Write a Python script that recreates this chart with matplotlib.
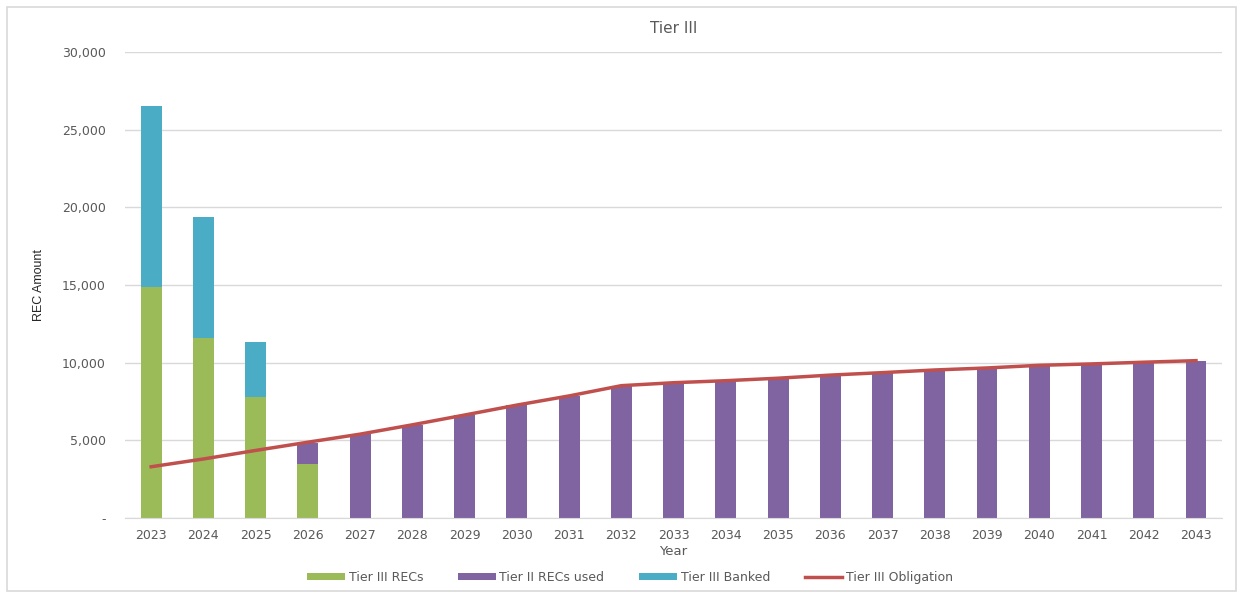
import matplotlib
matplotlib.use('Agg')
from matplotlib import pyplot as plt
from matplotlib.patches import Rectangle
from matplotlib.ticker import FuncFormatter

years = [str(y) for y in range(2023, 2044)]
tier3_recs = [14900, 11600, 7800, 3500] + [0] * 17
tier2_used = [0, 0, 0, 1350, 5400, 6000, 6630, 7270, 7860, 8520, 8710, 8840,
              9000, 9200, 9360, 9530, 9660, 9830, 9920, 10030, 10130]
tier3_banked = [11600, 7800, 3500] + [0] * 18
obligation = [3300, 3800, 4350, 4880, 5400, 6000, 6630, 7270, 7860, 8520, 8710,
              8840, 9000, 9200, 9360, 9530, 9660, 9830, 9920, 10030, 10130]

text_col = '#595959'

fig = plt.figure(figsize=(12.43, 5.95), dpi=100)
ax = fig.add_axes([0.1006, 0.1294, 0.8826, 0.7832])

# outer chart border
fig.patches.append(Rectangle((0.006, 0.006), 0.988, 0.982, transform=fig.transFigure,
                             fill=False, edgecolor='#D9D9D9', linewidth=1.2))

x = list(range(len(years)))
w = 0.4
bottom2 = [a for a in tier3_recs]
bottom3 = [a + b for a, b in zip(tier3_recs, tier2_used)]

b1 = ax.bar(x, tier3_recs, width=w, color='#9BBB59', label='Tier III RECs', zorder=2)
b2 = ax.bar(x, tier2_used, width=w, bottom=bottom2, color='#8064A2', label='Tier II RECs used', zorder=2)
b3 = ax.bar(x, tier3_banked, width=w, bottom=bottom3, color='#4BACC6', label='Tier III Banked', zorder=2)
l1, = ax.plot(x, obligation, color='#C0504D', linewidth=2.5, label='Tier III Obligation', zorder=3)

ax.set_xlim(-0.5, len(years) - 0.5)
ax.set_ylim(0, 30000)
ax.set_yticks(range(0, 30001, 5000))
ax.yaxis.set_major_formatter(FuncFormatter(lambda v, p: '-' if v == 0 else f'{int(v):,}'))
ax.set_xticks(x)
ax.set_xticklabels(years)

ax.grid(axis='y', color='#D9D9D9', linewidth=1, zorder=0)
for s in ['top', 'right', 'left']:
    ax.spines[s].set_visible(False)
ax.spines['bottom'].set_color('#D9D9D9')
ax.tick_params(axis='both', length=0, labelsize=9, colors=text_col, pad=8)
ax.tick_params(axis='y', pad=14)

ax.set_title('Tier III', fontsize=11, color=text_col, pad=14)
ax.set_xlabel('Year', fontsize=9.5, color=text_col, labelpad=2)
ax.set_ylabel('REC Amount', fontsize=9, color='#262626',
              family=['Liberation Sans Narrow', 'Liberation Sans'])
ax.yaxis.set_label_coords(-0.073, 0.5)

fig.legend([b1, b2, b3, l1],
           ['Tier III RECs', 'Tier II RECs used', 'Tier III Banked', 'Tier III Obligation'],
           loc='lower center', bbox_to_anchor=(0.507, 0.0), ncol=4, frameon=False,
           fontsize=9, labelcolor=text_col, handlelength=3.0, handleheight=0.5,
           columnspacing=2.8, handletextpad=0.3)

plt.savefig('out.png', dpi=100)
